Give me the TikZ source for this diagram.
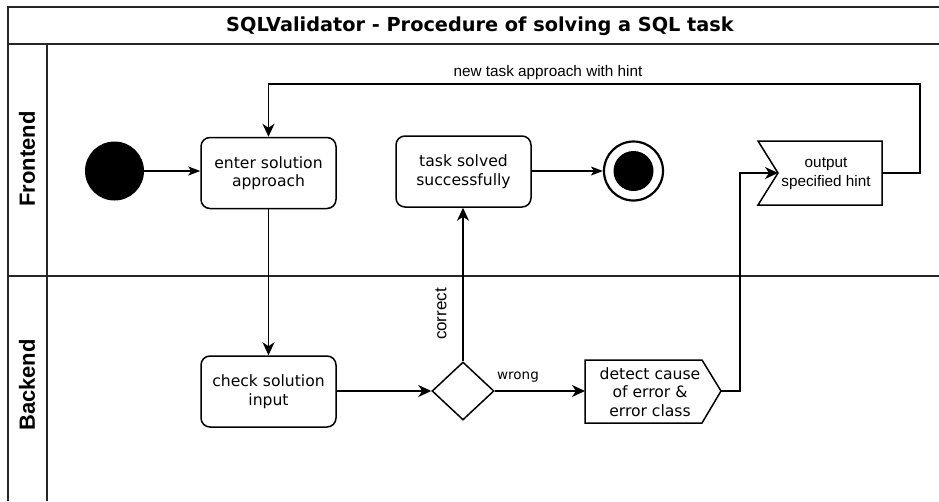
\documentclass[tikz,border=0pt]{standalone}
\usepackage{fontspec}
\setmainfont{DejaVu Sans}
\newfontfamily\arialf{Liberation Sans}
\usetikzlibrary{shapes.geometric,arrows.meta}
\tikzset{
  lw/.style={line width=1.5pt},
  frameline/.style={line width=1.5pt, draw=black!85},
  actbox/.style={draw, lw, rounded corners=9pt, minimum width=135pt, minimum height=71pt, align=center, font=\fontsize{15.6}{18.5}\selectfont, inner sep=0pt},
  boxtext/.style={align=center, font=\fontsize{15.6}{18.5}\selectfont, inner sep=0pt},
  conn/.style={lw, -{Stealth[length=13pt,width=12pt,inset=4pt]}},
  thinconn/.style={line width=1.2pt, -{Stealth[length=12pt,width=9pt,inset=3pt]}},
  edgelabel/.style={font=\fontsize{13.5}{16}\selectfont, inner sep=0pt},
  arlabel/.style={font=\arialf\fontsize{15.3}{18}\selectfont, inner sep=0pt},
  lanelabel/.style={font=\arialf\bfseries\fontsize{22}{24}\selectfont, rotate=90, inner sep=0pt}
}
\begin{document}
\begin{tikzpicture}[x=1pt,y=-1pt]
\useasboundingbox (0,0) rectangle (939,501);
% frame
\draw[frameline] (939,7) -- (8,7) -- (8,501);
\draw[frameline] (8,44) -- (939,44);
\draw[frameline] (47,44) -- (47,501);
\draw[frameline] (8,276) -- (939,276);
\node[font=\bfseries\fontsize{19.3}{22}\selectfont, inner sep=0pt] (title) at (480,26) {SQLValidator - Procedure of solving a SQL task};
\node[lanelabel] (front) at (27,159) {Frontend};
\node[lanelabel] (back) at (27,385) {Backend};
% nodes
\node[circle, fill=black, minimum size=59pt, inner sep=0pt] (start) at (114.5,171) {};
\node[actbox] (enter) at (268.5,173) {enter solution\\approach};
\node[actbox] (task) at (463.5,171.5) {task solved\\successfully};
\node[circle, draw, line width=2.2pt, minimum size=59pt, inner sep=0pt] (end) at (633.5,171) {};
\node[circle, fill=black, minimum size=40pt, inner sep=0pt] (endin) at (633.5,171) {};
\node[actbox] (check) at (268.5,391.5) {check solution\\input};
\node[diamond, draw, lw, minimum width=62pt, minimum height=58pt, inner sep=0pt] (dec) at (463,391) {};
% detect shape
\draw[lw, line join=miter] (585,360) -- (702,360) -- (721,391) -- (702,423) -- (585,423) -- cycle;
\coordinate (detL) at (585,391);
\coordinate (detR) at (721,391);
\node[boxtext] (detect) at (650,392) {detect cause\\of error \&\\error class};
% hint shape
\draw[lw, line join=miter] (758,141) -- (882,141) -- (882,205) -- (758,205) -- (778,173) -- cycle;
\coordinate (hintL) at (778,173);
\coordinate (hintR) at (882,173);
\node[boxtext, font=\arialf\fontsize{15.3}{19}\selectfont] (hint) at (826,174) {output\\specified hint};
% connectors
\draw[thinconn] (start) -- (enter.west |- start);
\draw[thinconn] (task.east |- end) -- (end.west);
\draw[conn] (enter.south) -- (check.north);
\draw[conn] (check.east |- dec) -- (dec.west);
\draw[conn] (dec.north) -- (task.south -| dec.north);
\node[arlabel, font=\arialf\fontsize{17}{19}\selectfont, rotate=90] (correct) at (441,314) {correct};
\draw[conn] (dec.east) -- (detL);
\node[edgelabel] (wrong) at (518,377) {wrong};
\draw[conn] (detR) -- (740,391) -- (740,173) -- (hintL);
\draw[conn] (hintR) -- (920,173) -- (920,84) -- (enter.north |- 0,84) -- (enter.north);
\node[arlabel] (newtask) at (548,73) {new task approach with hint};
\end{tikzpicture}
\end{document}
